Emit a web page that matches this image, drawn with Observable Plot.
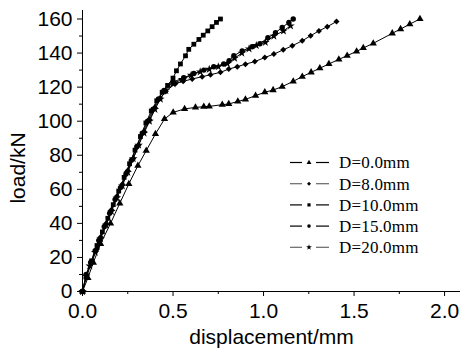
<!DOCTYPE html>
<html><head><meta charset="utf-8">
<script src="https://cdn.jsdelivr.net/npm/d3@7"></script>
<script src="https://cdn.jsdelivr.net/npm/@observablehq/plot@0.6"></script>
<style>
body{margin:0;background:#fff}
#wrap{position:relative;width:460px;height:349px;overflow:hidden}
#ylab{position:absolute;left:18px;top:168px;transform:translate(-50%,-50%) rotate(-90deg);font:21px "Liberation Sans",Arial,sans-serif;white-space:nowrap;color:#000}
#legend{position:absolute;left:0;top:0}
</style>
</head><body><div id="wrap"></div>
<script>
const xLabel = "displacement/mm";
const yLabel = "load/kN";
const names = ["D=0.0mm","D=8.0mm","D=10.0mm","D=15.0mm","D=20.0mm"];
const symbols = ["triangle","diamond2","square","circle","star"];
const xTicks = [0,0.5,1.0,1.5,2.0];
const xMinor = [0.25,0.75,1.25,1.75];
const yTicks = [0,20,40,60,80,100,120,140,160];
const yMinor = [10,30,50,70,90,110,130,150];

const d0 = [[0,0],[0.03,8],[0.06,17],[0.1,28],[0.155,40],[0.206,51.8],[0.256,63.2],[0.306,73.9],[0.352,82.7],[0.403,92.5],[0.453,101.3],[0.501,105.2],[0.564,107.2],[0.624,108.1],[0.67,108.5],[0.70,108.7],[0.772,109.7],[0.808,110.1],[0.858,111.6],[0.90,112.8],[0.956,115],[1.007,117],[1.053,118.3],[1.103,120.3],[1.164,123.4],[1.214,126.2],[1.263,128.7],[1.311,131.1],[1.361,133.6],[1.416,136.3],[1.462,138.5],[1.514,141],[1.551,143],[1.606,145.7],[1.711,151.6],[1.757,154.1],[1.808,157],[1.864,160]];
const d8 = [[0,0],[0.02,8],[0.05,17],[0.08,25],[0.1,32],[0.13,40],[0.16,48],[0.19,56],[0.22,63],[0.25,71],[0.28,78],[0.31,86],[0.34,94],[0.37,101],[0.40,108],[0.43,113.5],[0.46,117.5],[0.514,122.2],[0.556,123.4],[0.606,124.8],[0.661,126.1],[0.707,127.3],[0.762,128.7],[0.808,130.6],[0.855,132],[0.90,133.5],[0.952,135],[1.007,137.4],[1.057,139.4],[1.109,141.9],[1.159,144.3],[1.214,147.2],[1.26,150.2],[1.306,153],[1.352,155.5],[1.403,158.5]];
const d10 = [[0,0],[0.02,9],[0.05,18],[0.08,27],[0.11,35],[0.14,43],[0.17,51],[0.2,59],[0.23,67],[0.26,75],[0.29,83],[0.32,91],[0.35,99],[0.38,106],[0.41,112],[0.44,117],[0.47,121],[0.5,125.3],[0.519,129.6],[0.541,133.6],[0.569,138.4],[0.587,142.2],[0.615,145.2],[0.643,148],[0.667,150.5],[0.692,153],[0.716,155.5],[0.74,158],[0.762,160]];
const d15 = [[0,0],[0.02,10],[0.045,17],[0.07,24],[0.09,30],[0.12,38],[0.15,46],[0.18,54],[0.21,61],[0.24,69],[0.27,77],[0.3,85],[0.33,93],[0.36,100],[0.39,107],[0.42,113],[0.45,118],[0.5,123],[0.56,125.5],[0.615,128],[0.67,130],[0.725,132],[0.78,133.6],[0.81,135.5],[0.836,138.4],[0.882,141.3],[0.937,143.7],[0.98,145.5],[1.024,149],[1.066,152],[1.103,155],[1.14,158],[1.164,160]];
const d20 = [[0,0],[0.02,9],[0.04,15],[0.07,23],[0.1,31],[0.13,39],[0.16,47],[0.19,55],[0.22,62],[0.25,70],[0.28,78],[0.31,86],[0.34,93],[0.37,100],[0.4,107],[0.43,113],[0.46,118],[0.5,122],[0.55,124.5],[0.6,127],[0.65,129],[0.7,130.5],[0.75,132],[0.8,133.8],[0.84,137],[0.88,140],[0.92,142.5],[0.96,144.5],[1.01,146.3],[1.057,150],[1.11,153],[1.149,156]];
const series = [d0,d8,d10,d15,d20];

const rows = names.flatMap((n,i) => series[i].map(([x,y]) => ({x, y, s: n})));

const chart = Plot.plot({
  width: 460, height: 349,
  marginLeft: 82, marginRight: 0, marginTop: 10, marginBottom: 58,
  style: {fontFamily: '"Liberation Sans", Arial, sans-serif', fontSize: "21px", color: "#000", background: "#fff"},
  x: {domain: [0, 2.088]},
  y: {domain: [0, 165]},
  symbol: {domain: names, range: symbols},
  marks: [
    Plot.axisX({ticks: xTicks, tickSize: 5, tickPadding: 7, tickFormat: d3.format(".1f"), label: xLabel, labelAnchor: "center", labelArrow: "none", labelOffset: 52}),
    Plot.axisX({ticks: xMinor, tickSize: 3, text: null, label: null}),
    Plot.axisY({ticks: yTicks, tickSize: 5, tickPadding: 5, label: null}),
    Plot.axisY({ticks: yMinor, tickSize: 3, text: null, label: null}),
    Plot.ruleX([0], {stroke: "#000"}),
    Plot.ruleY([0], {stroke: "#000"}),
    Plot.line(rows, {x: "x", y: "y", z: "s", stroke: "#000", strokeWidth: 1}),
    Plot.dot(rows, {x: "x", y: "y", symbol: "s", fill: "#000", stroke: "none", r: 2.7})
  ]
});
const wrap = document.getElementById("wrap");
wrap.appendChild(chart);

const yl = document.createElement("div");
yl.id = "ylab"; yl.textContent = yLabel;
wrap.appendChild(yl);

// legend overlay
const lineCols = ["#000","#666","#000","#000","#666"];
const symMap = {triangle: d3.symbolTriangle, diamond2: d3.symbolDiamond2, square: d3.symbolSquare, circle: d3.symbolCircle, star: d3.symbolStar};
const lg = d3.select(wrap).append("svg").attr("id","legend").attr("width",460).attr("height",349);
names.forEach((n,i) => {
  const cy = 162.5 + i*21.2;
  const g = lg.append("g");
  g.append("line").attr("x1",290).attr("x2",302).attr("y1",cy).attr("y2",cy).attr("stroke",lineCols[i]).attr("stroke-width",1.2);
  g.append("line").attr("x1",316).attr("x2",329).attr("y1",cy).attr("y2",cy).attr("stroke",lineCols[i]).attr("stroke-width",1.2);
  g.append("path").attr("d", d3.symbol(symMap[symbols[i]], 1.8*1.8*Math.PI)()).attr("transform",`translate(309,${cy})`).attr("fill","#000");
  g.append("text").attr("x",339).attr("y",cy).attr("dy","0.35em").attr("font-family",'"Liberation Serif","Times New Roman",serif').attr("font-size",17).attr("letter-spacing","0.2px").attr("fill","#000").text(n);
});
</script>
</body></html>
